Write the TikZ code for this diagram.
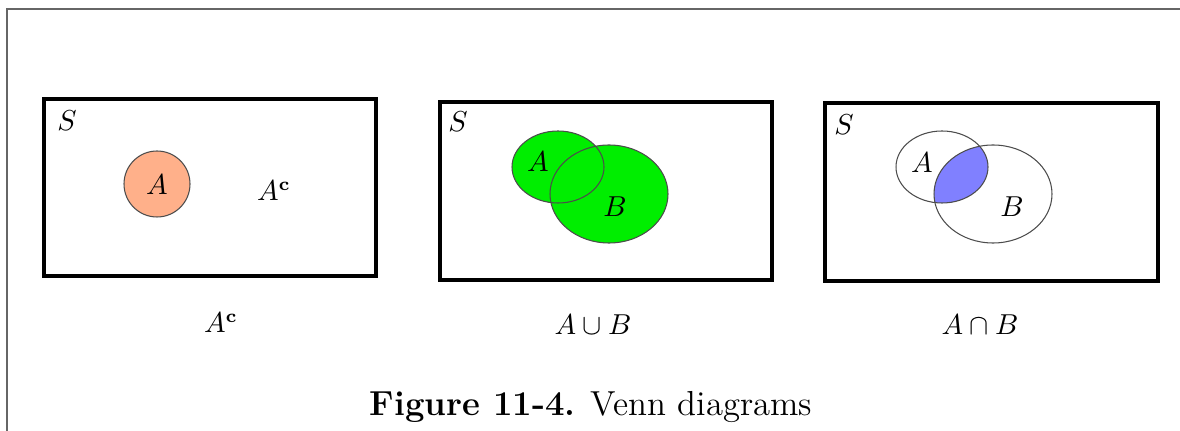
\documentclass[tikz,border=0pt]{standalone}
\usepackage{amsmath}
\definecolor{salmonA}{RGB}{255,176,138}
\definecolor{greenAB}{RGB}{0,238,0}
\definecolor{blueAB}{RGB}{128,128,255}
\tikzset{
  samplebox/.style={draw=black,line width=1.3pt},
  setedge/.style={draw=black!70,line width=0.4pt},
  setlabel/.style={inner sep=0pt,font=\fontsize{10.6}{12}\selectfont}
}
\begin{document}
\begin{tikzpicture}[x=0.38pt,y=0.38pt]
        % Define dimensions
        \def\rxA{46}
        \def\ryA{36}
        \def\rxB{59}
        \def\ryB{49}
        \useasboundingbox (0,0) rectangle (1180,431);
        % Page frame
        \draw[black!60,line width=0.6pt] (7,0) -- (7,422) -- (1180,422);
        % Complement
        \begin{scope}
            \draw[samplebox] (44,155) rectangle (376,332);
            \fill[salmonA] (157,247) circle (33);
            \draw[setedge] (157,247) circle (33);
            \node[setlabel] (s1) at (67,310) {$S$};
            \node[setlabel] (a1) at (157,246) {$A$};
            \node[setlabel] (ac1) at (274,240) {$A^{\mathbf{c}}$};
            \node[setlabel] (cap1) at (221,108) {$A^{\mathbf{c}}$};
        \end{scope}
        % Union
        \begin{scope}
            \draw[samplebox] (440,151) rectangle (772,329);
            \fill[greenAB] (558,264) ellipse [x radius=\rxA,y radius=\ryA];
            \fill[greenAB] (609,237) ellipse [x radius=\rxB,y radius=\ryB];
            \draw[setedge] (558,264) ellipse [x radius=\rxA,y radius=\ryA];
            \draw[setedge] (609,237) ellipse [x radius=\rxB,y radius=\ryB];
            \node[setlabel] (s2) at (458,309) {$S$};
            \node[setlabel] (a2) at (538,269) {$A$};
            \node[setlabel] (b2) at (615,224) {$B$};
            \node[setlabel] (cap2) at (593,106) {$A\cup B$};
        \end{scope}
        % Intersection
        \begin{scope}
            \draw[samplebox] (825,150) rectangle (1158,328);
            \begin{scope}
                \clip (942,264) ellipse [x radius=\rxA,y radius=\ryA];
                \fill[blueAB] (993,237) ellipse [x radius=\rxB,y radius=\ryB];
            \end{scope}
            \draw[setedge] (942,264) ellipse [x radius=\rxA,y radius=\ryA];
            \draw[setedge] (993,237) ellipse [x radius=\rxB,y radius=\ryB];
            \node[setlabel] (s3) at (844,306) {$S$};
            \node[setlabel] (a3) at (922,268) {$A$};
            \node[setlabel] (b3) at (1012,224) {$B$};
            \node[setlabel] (cap3) at (980,106) {$A\cap B$};
        \end{scope}
        % Caption
        \node[inner sep=0pt,font=\fontsize{13.2}{15}\selectfont] (figcap) at (591,24)
            {\textbf{Figure 11-4.} Venn diagrams};
\end{tikzpicture}
\end{document}
